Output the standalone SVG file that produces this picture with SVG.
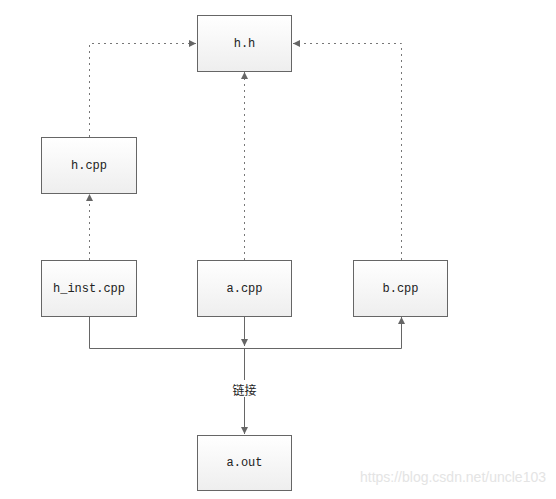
<svg xmlns="http://www.w3.org/2000/svg" width="556" height="499" viewBox="0 0 556 499">
<style>
.box{fill:url(#g);stroke:#666;stroke-width:1}
.t{font-family:"Liberation Mono",monospace;font-size:12px;fill:#222;text-anchor:middle;dominant-baseline:central}
.s{fill:none;stroke:#666;stroke-width:1}
.d{fill:none;stroke:#777;stroke-width:1;stroke-dasharray:2 4}
</style>
<defs>
<linearGradient id="g" x1="0" y1="0" x2="0" y2="1"><stop offset="0" stop-color="#ffffff"/><stop offset="1" stop-color="#eeeeee"/></linearGradient>
<marker id="a" viewBox="0 0 10 10" refX="10" refY="5" markerWidth="7" markerHeight="7" markerUnits="userSpaceOnUse" orient="auto"><path d="M0,0L10,5L0,10z" fill="#666"/></marker>
</defs>
<rect width="556" height="499" fill="#fff"/>
<g id="connectors">
<path class="d" d="M89.5,137V43.5H196" marker-end="url(#a)"/>
<path class="d" d="M89.5,260V194" marker-end="url(#a)"/>
<path class="d" d="M244.5,260V72" marker-end="url(#a)"/>
<path class="d" d="M401.5,260V43.5H293" marker-end="url(#a)"/>
<path class="s" d="M89.5,316V348.5H401.5V317" marker-end="url(#a)"/>
<path class="s" d="M244.5,316V346" marker-end="url(#a)"/>
<path class="s" d="M244.5,348.5V434" marker-end="url(#a)"/>
<rect x="228" y="380" width="33" height="17" fill="#fff"/>
<text x="244.5" y="389" font-family="'Noto Sans CJK SC',sans-serif" font-size="12" fill="#222" text-anchor="middle" dominant-baseline="central">链接</text>
</g>
<g id="hh"><rect class="box" x="197.5" y="15.5" width="94" height="56"/><text class="t" x="244.5" y="43.5">h.h</text></g>
<g id="hcpp"><rect class="box" x="41.5" y="137.5" width="95" height="56"/><text class="t" x="89" y="165.5">h.cpp</text></g>
<g id="hinst"><rect class="box" x="41.5" y="260.5" width="95" height="56"/><text class="t" x="89" y="288.5">h_inst.cpp</text></g>
<g id="acpp"><rect class="box" x="197.5" y="260.5" width="94" height="56"/><text class="t" x="244.5" y="288.5">a.cpp</text></g>
<g id="bcpp"><rect class="box" x="353.5" y="260.5" width="94" height="56"/><text class="t" x="400.5" y="288.5">b.cpp</text></g>
<g id="aout"><rect class="box" x="197.5" y="435.5" width="94" height="55"/><text class="t" x="244.5" y="463">a.out</text></g>
<text x="546" y="482" font-family="'Liberation Sans',sans-serif" font-size="14" fill="#e4e4e4" text-anchor="end">https://blog.csdn.net/uncle103</text>
</svg>
